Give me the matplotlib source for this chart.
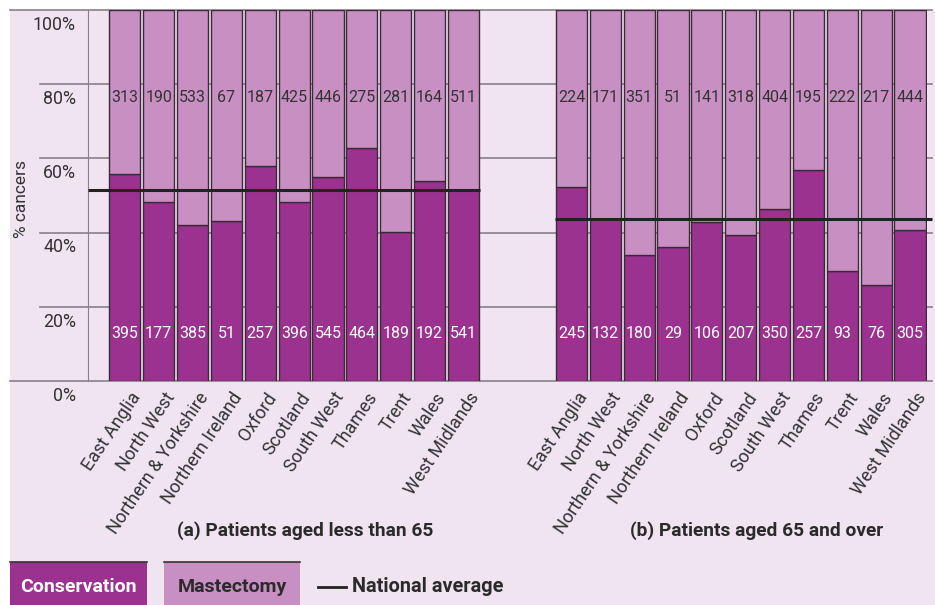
import matplotlib.pyplot as plt
from matplotlib.patches import Rectangle
from matplotlib.lines import Line2D
import numpy as np

plt.rcParams['font.family'] = ['Roboto', 'DejaVu Sans']

regions = ["East Anglia", "North West", "Northern & Yorkshire", "Northern Ireland",
           "Oxford", "Scotland", "South West", "Thames", "Trent", "Wales", "West Midlands"]

# aantallen patienten per regio
cons_under65 = [395, 177, 385, 51, 257, 396, 545, 464, 189, 192, 541]
mast_under65 = [313, 190, 533, 67, 187, 425, 446, 275, 281, 164, 511]
cons_65plus = [245, 132, 180, 29, 106, 207, 350, 257, 93, 76, 305]
mast_65plus = [224, 171, 351, 51, 141, 318, 404, 195, 222, 217, 444]

national_avg = [51.5, 43.7]
titles = ["(a) Patients aged less than 65", "(b) Patients aged 65 and over"]
yticks = [0, 20, 40, 60, 80, 100]

dark = "#9c3290"
light = "#c890c2"
bg = "#efe4f0"
edge = "#3a2a38"
grid = "#8a8088"
txt = "#333333"

W, H = 935, 605
fig = plt.figure(figsize=(W / 100, H / 100), dpi=100, facecolor="white")

# achtergrond
fig.add_artist(Rectangle((10 / W, 0), 1, 1 - 10 / H, transform=fig.transFigure,
                         facecolor=bg, edgecolor="none", zorder=-10))

ax_l, ax_r, ax_t, ax_b = 88, 927, 10, 381
ax = fig.add_axes([ax_l / W, 1 - ax_b / H, (ax_r - ax_l) / W, (ax_b - ax_t) / H])
ax.set_facecolor("none")

offset = 13.19
ax.set_xlim(-0.59, offset + 11)
ax.set_ylim(0, 100)
for s in ["top", "right", "bottom"]:
    ax.spines[s].set_visible(False)
ax.spines["left"].set_color(grid)
ax.set_xticks([])
ax.set_yticks([])

# rasterlijnen
def fx(px):
    return (px - ax_l) / (ax_r - ax_l)

for v in yticks:
    x0 = 10 if v in (0, 100) else 40
    ax.axhline(v, fx(x0), fx(932), color=grid, lw=1.2, clip_on=False, zorder=0)
    ax.text(fx(76), v - 4, f"{v}%", transform=ax.get_yaxis_transform(),
            ha="right", va="center", fontsize=12.8, color=txt)

ax.text(fx(22), 49, "% cancers", transform=ax.get_yaxis_transform(), rotation=90,
        ha="center", va="center", fontsize=12.5, color=txt)

groups = [(cons_under65, mast_under65), (cons_65plus, mast_65plus)]
for g, (cons, mast) in enumerate(groups):
    cons = np.array(cons)
    mast = np.array(mast)
    pct = 100 * cons / (cons + mast)
    x = np.arange(11) + 0.5 + g * offset
    ax.bar(x, pct, width=0.92, color=dark, edgecolor=edge, lw=1, zorder=2)
    ax.bar(x, 100 - pct, bottom=pct, width=0.92, color=light, edgecolor=edge, lw=1, zorder=2)
    for i in range(11):
        ax.text(x[i], 76.5, str(mast[i]), ha="center", va="center", fontsize=11.5,
                color=txt, zorder=4)
        ax.text(x[i], 12.9, str(cons[i]), ha="center", va="center", fontsize=11.5,
                color="white", zorder=4)
        ax.text(x[i] + 0.15, -2.2, regions[i], rotation=56, ha="right", va="top",
                rotation_mode="anchor", fontsize=13, color=txt)
    # landelijk gemiddelde
    if g == 0:
        x0, x1 = -0.59, 11
    else:
        x0, x1 = offset, offset + 11.15
    ax.plot([x0, x1], [national_avg[g]] * 2, color="#222222", lw=2.2, zorder=3,
            clip_on=False, solid_capstyle="butt")

fig.text(305 / W, 1 - 531 / H, titles[0], ha="center", va="center", fontsize=13.8,
         fontweight="bold", color="#2a2a2a")
fig.text(757 / W, 1 - 531 / H, titles[1], ha="center", va="center", fontsize=13.8,
         fontweight="bold", color="#2a2a2a")

# legenda
def box(x0, x1, color, label, tcolor):
    fig.add_artist(Rectangle((x0 / W, 0), (x1 - x0) / W, 1 - 562 / H,
                             transform=fig.transFigure, facecolor=color, edgecolor="none"))
    fig.add_artist(Line2D([x0 / W, x1 / W], [1 - 562 / H] * 2, color=txt, lw=1.2))
    fig.text((x0 + x1) / 2 / W, 1 - 587 / H, label, ha="center", va="center",
             fontsize=14, fontweight="bold", color=tcolor)

box(10, 147, dark, "Conservation", "white")
box(164, 300, light, "Mastectomy", "#2a2a2a")
fig.add_artist(Line2D([318 / W, 346 / W], [1 - 587 / H] * 2, color="#222222", lw=2))
fig.text(352 / W, 1 - 587 / H, "National average", ha="left", va="center",
         fontsize=14.3, fontweight="bold", color="#2a2a2a")

fig.savefig("out.png", dpi=100, facecolor=fig.get_facecolor())
